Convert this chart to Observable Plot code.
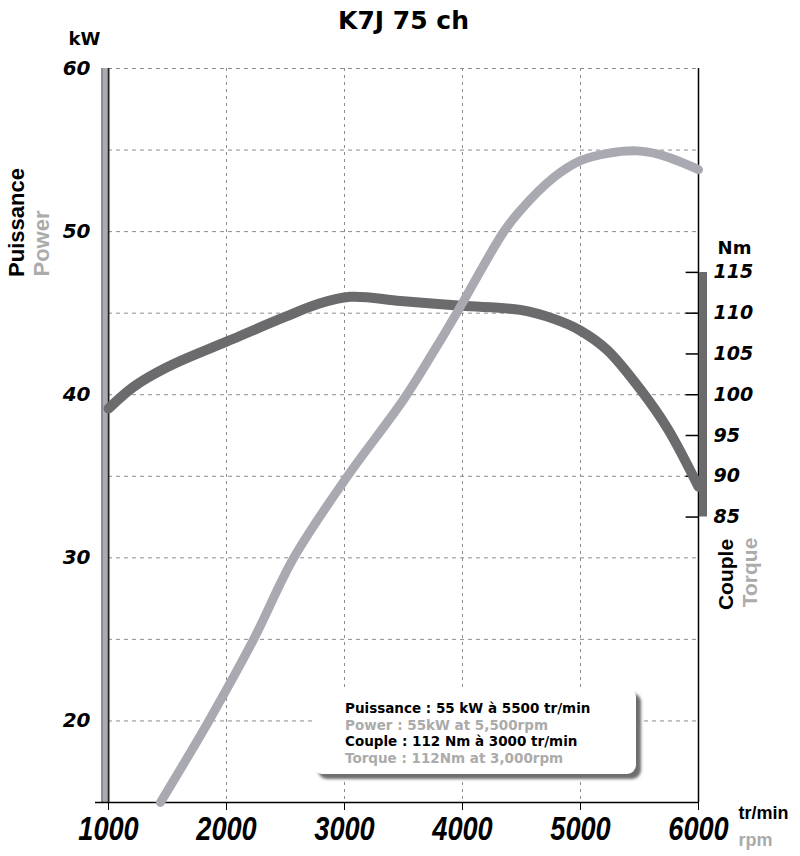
<!DOCTYPE html>
<html>
<head>
<meta charset="utf-8">
<script src="https://cdn.jsdelivr.net/npm/d3@7"></script>
<script src="https://cdn.jsdelivr.net/npm/@observablehq/plot@0.6"></script>
<style>
  html, body { margin: 0; padding: 0; background: #fff; }
  #wrap { position: relative; width: 800px; height: 856px; }
  #legend {
    position: absolute; left: 313px; top: 688px; width: 323px; height: 86px;
    background: #fff; border-radius: 9px; box-shadow: 5px 5px 3px #6e6e6e;
    box-sizing: border-box; padding: 12px 0 0 32px;
    font-family: "DejaVu Sans", sans-serif; font-weight: bold;
    font-size: 13.5px; line-height: 16.7px; white-space: nowrap;
  }
  #legend .fr { color: #000; }
  #legend .en { color: #ababab; }
</style>
</head>
<body>
<div id="wrap"></div>
<script>
// ---- data ----
const title = "K7J 75 ch";
const xTicks = [1000, 2000, 3000, 4000, 5000, 6000];
const xGrid = [2000, 3000, 4000, 5000];
const kwTicks = [20, 30, 40, 50, 60];
const kwGrid = [20, 25, 30, 35, 40, 45, 50, 55, 60];
const nmTicks = [85, 90, 95, 100, 105, 110, 115];

const powerRpm = [1440, 1850, 2230, 2570, 3025, 3500, 3760, 3950, 4350, 4490, 4770, 5000, 5230, 5480, 5680, 6000];
const powerKw  = [15, 20, 25, 30, 35, 39.7, 42.7, 45, 50, 51.3, 53.3, 54.35, 54.8, 54.95, 54.7, 53.8];

const torqueRpm = [1000, 1215, 1500, 2000, 2490, 2770, 3050, 3475, 3990, 4490, 4775, 4995, 5225, 5510, 5740, 6000];
const torqueNm  = [98.3, 101, 103.4, 106.5, 109.5, 111.1, 112, 111.5, 110.9, 110.4, 109.3, 107.9, 105.5, 100.6, 95.8, 88.7];

const legendLines = [
  ["fr", "Puissance : 55 kW à 5500 tr/min"],
  ["en", "Power : 55kW at 5,500rpm"],
  ["fr", "Couple : 112 Nm à 3000 tr/min"],
  ["en", "Torque : 112Nm at 3,000rpm"]
];

// torque axis shares the kW frame: 100 Nm <-> 40 kW, 110 Nm <-> 45 kW
const nmToKw = n => n / 2 - 10;
const kwToNm = k => Math.round(2 * k + 20);

const power = powerRpm.map((r, i) => ({rpm: r, kw: powerKw[i]}));
const torque = torqueRpm.map((r, i) => ({rpm: r, nm: torqueNm[i]}));

const NUM = "DejaVu Sans";
const WORD = "Liberation Sans";
const LIGHT = "#a9a9b1";
const DARK = "#6b6b6d";
const GREYTXT = "#ababab";

const lbl = (txt, anchor, dx, dy, o = {}) =>
  Plot.text([txt], Object.assign({frameAnchor: anchor, dx, dy, textAnchor: "middle", lineAnchor: "middle",
    fontWeight: "bold", fontFamily: WORD, fill: "#000"}, o));

const chart = Plot.plot({
  width: 800,
  height: 856,
  marginLeft: 108,
  marginRight: 102,
  marginTop: 68,
  marginBottom: 54,
  x: {domain: [1000, 6000]},
  y: {domain: [15, 60]},
  style: {background: "#fff"},
  marks: [
    // grid
    Plot.gridX(xGrid, {stroke: "#8c8c8c", strokeOpacity: 1, strokeDasharray: "3,4"}),
    Plot.gridY(kwGrid, {stroke: "#8c8c8c", strokeOpacity: 1, strokeDasharray: "4,4"}),
    // left bar (kW axis)
    Plot.ruleX([1000], {y1: 15, y2: 60, dx: -3, stroke: "#222", strokeWidth: 8}),
    Plot.ruleX([1000], {y1: 15, y2: 60, dx: -3.5, stroke: "#aaaab2", strokeWidth: 5.5}),
    // right axis line
    Plot.ruleX([6000], {y1: 15, y2: 60, stroke: "#000", strokeWidth: 1.5}),
    // torque bar
    Plot.ruleX([6000], {y1: nmToKw(85), y2: nmToKw(115), dx: 4.5, stroke: DARK, strokeWidth: 8}),
    // torque ticks (inward)
    Plot.ruleY(nmTicks, {y: nmToKw, x1: 5895, x2: 6000, stroke: "#000", strokeWidth: 1.5}),
    // x axis line
    Plot.ruleY([15], {x1: 890, x2: 6000, stroke: "#000", strokeWidth: 1.5}),
    // axes
    Plot.axisX(xTicks, {anchor: "bottom", tickSize: 8, tickPadding: 5, label: null,
      fontSize: 34, fontWeight: "bold", fontStyle: "italic", fontFamily: WORD, tickFormat: d => String(d)}),
    Plot.axisY(kwTicks, {anchor: "left", tickSize: 0, tickPadding: 18, label: null,
      fontSize: 20, fontWeight: "bold", fontStyle: "italic", fontFamily: NUM}),
    Plot.axisY(nmTicks.map(nmToKw), {anchor: "right", tickSize: 0, tickPadding: 15, label: null,
      tickFormat: kwToNm, fontSize: 19, fontWeight: "bold", fontStyle: "italic", fontFamily: NUM}),
    // curves
    Plot.line(torque, {x: "rpm", y: d => nmToKw(d.nm), stroke: DARK, strokeWidth: 10,
      curve: "catmull-rom", strokeLinecap: "round", strokeLinejoin: "round"}),
    Plot.line(power, {x: "rpm", y: "kw", stroke: LIGHT, strokeWidth: 9,
      curve: "catmull-rom", strokeLinecap: "round", strokeLinejoin: "round"}),
    // texts
    lbl(title, "top", 0, -48, {fontSize: 25, fontFamily: NUM}),
    lbl("kW", "top-left", -24, -29, {fontSize: 18, fontFamily: NUM}),
    lbl("Puissance", "top-left", -92, 154, {rotate: -90, fontSize: 22}),
    lbl("Power", "top-left", -67, 175, {rotate: -90, fontSize: 22, fill: GREYTXT}),
    lbl("Nm", "top-right", 36, 180, {fontSize: 18, fontFamily: NUM}),
    lbl("Couple", "top-right", 27.5, 506, {rotate: -90, fontSize: 21}),
    lbl("Torque", "top-right", 52, 504, {rotate: -90, fontSize: 21, fill: GREYTXT}),
    lbl("tr/min", "bottom-right", 40, 11, {textAnchor: "start", fontSize: 18}),
    lbl("rpm", "bottom-right", 40, 38, {textAnchor: "start", fontSize: 18, fill: GREYTXT})
  ]
});

// condense the bottom tick labels like the reference's narrow italic digits
d3.select(chart).selectAll('g[aria-label="x-axis tick label"] text')
  .attr("transform", function () { return (this.getAttribute("transform") || "") + " scale(0.8,1)"; });

const wrap = document.getElementById("wrap");
wrap.appendChild(chart);
const leg = document.createElement("div");
leg.id = "legend";
legendLines.forEach(([cls, t]) => {
  const line = document.createElement("div");
  line.className = cls;
  line.textContent = t;
  leg.appendChild(line);
});
wrap.appendChild(leg);
</script>
</body>
</html>
